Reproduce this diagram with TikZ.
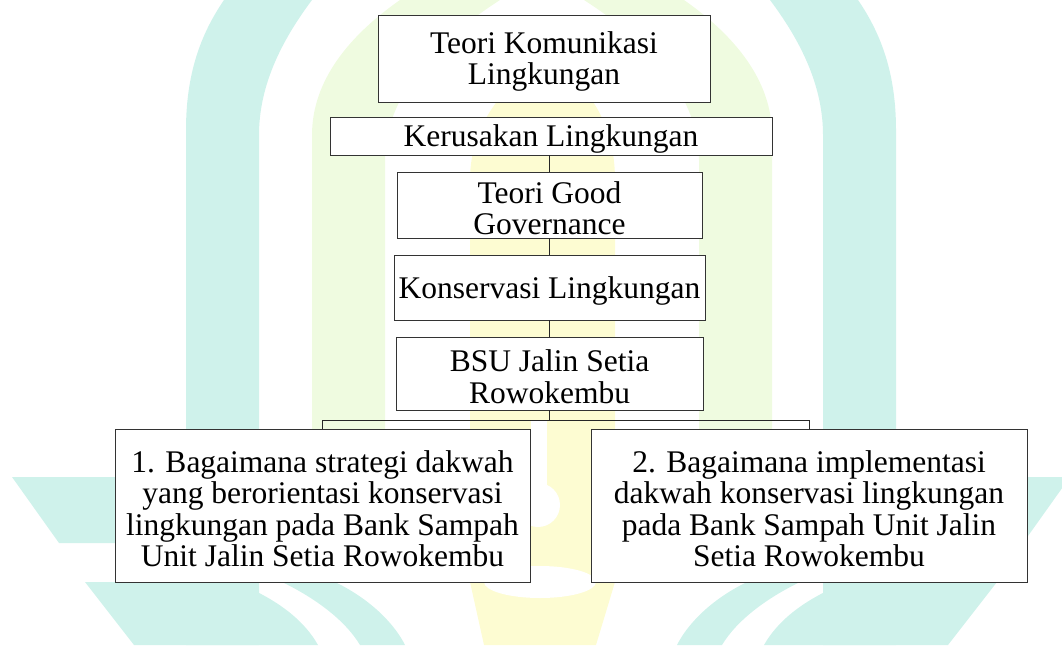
\documentclass[tikz,border=0pt]{standalone}
\usepackage{fontspec}
\setmainfont{Liberation Serif}
\definecolor{wmcyan}{HTML}{CFF2EB}
\definecolor{wmgreen}{HTML}{EFFBE0}
\definecolor{wmyellow}{HTML}{FDFCD2}
\newcommand{\toppad}{\rule{0pt}{28pt}}
\begin{document}
\begin{tikzpicture}[x=1pt,y=-1pt,
  box/.style={draw=black!80, line width=0.9pt, fill=white, align=center, inner sep=0pt,
    font=\fontsize{31.5}{31.5}\selectfont},
  conn/.style={draw=black!85, line width=0.9pt}]
\useasboundingbox (0,0) rectangle (1062,645);
% ---------- watermark (background logo) ----------
\begin{scope}
  % green arch legs
  \fill[wmgreen] (312,582) -- (312,135) .. controls (312,80) and (350,35) .. (400,0) -- (500,0)
     .. controls (430,45) and (385,100) .. (385,160) -- (385,582) -- cycle;
  \begin{scope}[xshift=1084pt, xscale=-1]
  \fill[wmgreen] (312,582) -- (312,135) .. controls (312,80) and (350,35) .. (400,0) -- (500,0)
     .. controls (430,45) and (385,100) .. (385,160) -- (385,582) -- cycle;
  \end{scope}
  % yellow inner arch
  \fill[wmyellow] (470,582) -- (470,180) .. controls (470,120) and (510,80) .. (545,60)
     .. controls (585,80) and (615,120) .. (615,180) -- (615,582) -- (596,645) -- (484,645) -- cycle;
  \fill[white] (531,420) rectangle (547,490);
  \fill[white] (538,505) circle (22);
  \fill[white] (540,582) ellipse (56 and 16);
  % cyan arch legs and lower waves
  \foreach \s/\m in {0/1, 1082/-1}{
  \begin{scope}[xshift=\s pt, xscale=\m]
  \fill[wmcyan] (186,645) -- (186,130) .. controls (186,75) and (200,35) .. (224,0) -- (312,0)
     .. controls (282,40) and (259,85) .. (259,135) -- (259,645) -- cycle;
  \fill[wmcyan] (12,477) -- (186,477) -- (186,543) -- (59,543) -- cycle;
  \fill[wmcyan] (85,582) -- (235,582) .. controls (280,600) and (305,622) .. (318,645) -- (134,645) -- cycle;
  \fill[wmcyan] (282,582) -- (335,582) .. controls (372,600) and (395,625) .. (405,645) -- (360,645)
     .. controls (345,620) and (315,598) .. (282,582) -- cycle;
  \end{scope}}
\end{scope}
% ---------- diagram ----------
\node[box, minimum width=332pt, minimum height=87pt] (b1) at (544,58.5) {\toppad Teori Komunikasi\\Lingkungan};
\node[box, minimum width=442pt, minimum height=38pt] (b2) at (551,136) {\toppad Kerusakan Lingkungan};
\node[box, minimum width=305pt, minimum height=66pt] (b3) at (549.5,205) {\toppad Teori Good\\Governance};
\node[box, minimum width=311pt, minimum height=65pt] (b4) at (549.5,287.5) {\toppad Konservasi Lingkungan};
\node[box, minimum width=307pt, minimum height=73pt] (b5) at (549.5,373.5) {\toppad BSU Jalin Setia\\Rowokembu};
\node[box, minimum width=415pt, minimum height=153pt] (b6) at (322.5,505.5)
  {\toppad 1. Bagaimana strategi dakwah\\yang berorientasi konservasi\\lingkungan pada Bank Sampah\\Unit Jalin Setia Rowokembu};
\node[box, minimum width=436pt, minimum height=153pt] (b7) at (809,505.5)
  {\toppad 2. Bagaimana implementasi\\dakwah konservasi lingkungan\\pada Bank Sampah Unit Jalin\\Setia Rowokembu};
\coordinate (j) at (549.5,420);
\draw[conn] (b3.north |- b2.south) -- (b3.north);
\draw[conn] (b3.south) -- (b4.north);
\draw[conn] (b4.south) -- (b5.north);
\draw[conn] (b5.south) -- (j);
\draw[conn] (j) -| (b6.north);
\draw[conn] (j) -| (b7.north);
\end{tikzpicture}
\end{document}
